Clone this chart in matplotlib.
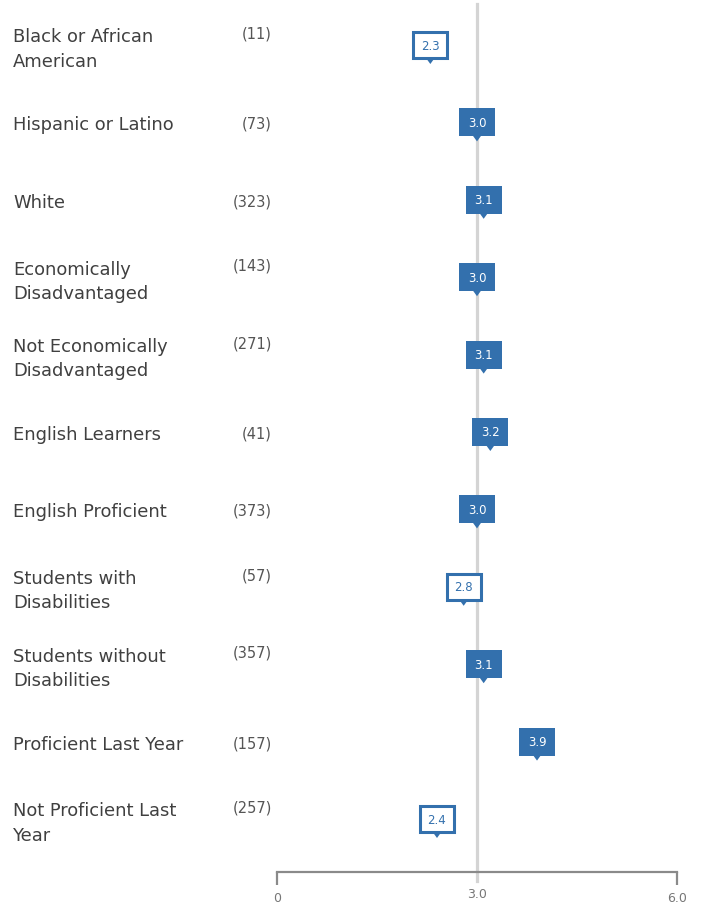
import matplotlib
matplotlib.use("Agg")

import matplotlib.pyplot as plt
from matplotlib import transforms
from matplotlib.patches import Polygon

plt.rcParams["font.family"] = ["DejaVu Sans"]

# 数据
groups = [
    "Black or African\nAmerican",
    "Hispanic or Latino",
    "White",
    "Economically\nDisadvantaged",
    "Not Economically\nDisadvantaged",
    "English Learners",
    "English Proficient",
    "Students with\nDisabilities",
    "Students without\nDisabilities",
    "Proficient Last Year",
    "Not Proficient Last\nYear",
]
counts = [11, 73, 323, 143, 271, 41, 373, 57, 357, 157, 257]
scores = [2.3, 3.0, 3.1, 3.0, 3.1, 3.2, 3.0, 2.8, 3.1, 3.9, 2.4]
reference = 3.0
xticks = [0, 3.0, 6.0]
xtick_labels = ["0", "3.0", "6.0"]

BLUE = "#3370ad"
TEXT = "#404040"

W, H = 702, 904
fig = plt.figure(figsize=(W / 100, H / 100), dpi=100)

# 坐标轴位置按像素换算
row0, step = 46, 77.4
ax_top, ax_bottom = 5, 873
ax = fig.add_axes([277 / W, 1 - ax_bottom / H, 400 / W, (ax_bottom - ax_top) / H])
ax.set_xlim(0, 6)
ax.set_ylim((ax_bottom - row0) / step, (ax_top - row0) / step)

for s in ["top", "left", "right"]:
    ax.spines[s].set_visible(False)
ax.spines["bottom"].set_color("#8a8a8a")
ax.spines["bottom"].set_linewidth(1.6)
ax.set_yticks([])
ax.set_xticks(xticks)
ax.set_xticklabels(xtick_labels)
ax.tick_params(axis="x", length=9.5, width=1.6, color="#8a8a8a",
               labelsize=9, labelcolor="#777777", pad=4)
# 中间刻度不画刻度线，标签稍微上移
mid = ax.xaxis.get_major_ticks()[1]
mid.tick1line.set_visible(False)
mid.label1.set_transform(mid.label1.get_transform()
                         + transforms.ScaledTranslation(0, 0.04, fig.dpi_scale_trans))

# 参考线
ax.plot([reference, reference], [(ax_top - row0) / step, (882 - row0) / step],
        color="#d4d4d4", lw=2.3, clip_on=False, zorder=1)

label_tr = transforms.blended_transform_factory(fig.transFigure, ax.transData)
half_line = 12.5 / step

for i, (g, n, v) in enumerate(zip(groups, counts, scores)):
    two_lines = "\n" in g
    ax.text(13 / W, i + (3.5 if two_lines else 2.0) / step, g, transform=label_tr,
            ha="left", va="center", fontsize=12.9, color=TEXT, linespacing=1.43)
    ax.text(272 / W, i - (half_line - 0.5 / step if two_lines else -1.0 / step), f"({n})",
            transform=label_tr, ha="right", va="center", fontsize=10.5, color="#555555")

    # 标注框（英寸为单位，锚点为框中心）
    tr = fig.dpi_scale_trans + transforms.ScaledTranslation(v, i, ax.transData)
    hw, hh = 0.18, 0.14
    outlined = v < reference
    if outlined:
        box = Polygon([(-hw + 0.01, -hh + 0.01), (hw - 0.01, -hh + 0.01),
                       (hw - 0.01, hh - 0.01), (-hw + 0.01, hh - 0.01)],
                      closed=True, transform=tr, facecolor="white",
                      edgecolor=BLUE, lw=2.2, zorder=3, clip_on=False)
    else:
        box = Polygon([(-hw, -hh), (hw, -hh), (hw, hh), (-hw, hh)],
                      closed=True, transform=tr, facecolor=BLUE,
                      edgecolor="none", zorder=3, clip_on=False)
    ax.add_patch(box)
    ax.add_patch(Polygon([(-0.04, -hh + 0.005), (0.04, -hh + 0.005), (0, -hh - 0.05)],
                         closed=True, transform=tr, facecolor=BLUE,
                         edgecolor="none", zorder=3, clip_on=False))
    ax.text(v, i, f"{v:.1f}", ha="center", va="center", fontsize=8.5,
            color=BLUE if outlined else "white", zorder=4)

fig.savefig("out.png", dpi=100)
